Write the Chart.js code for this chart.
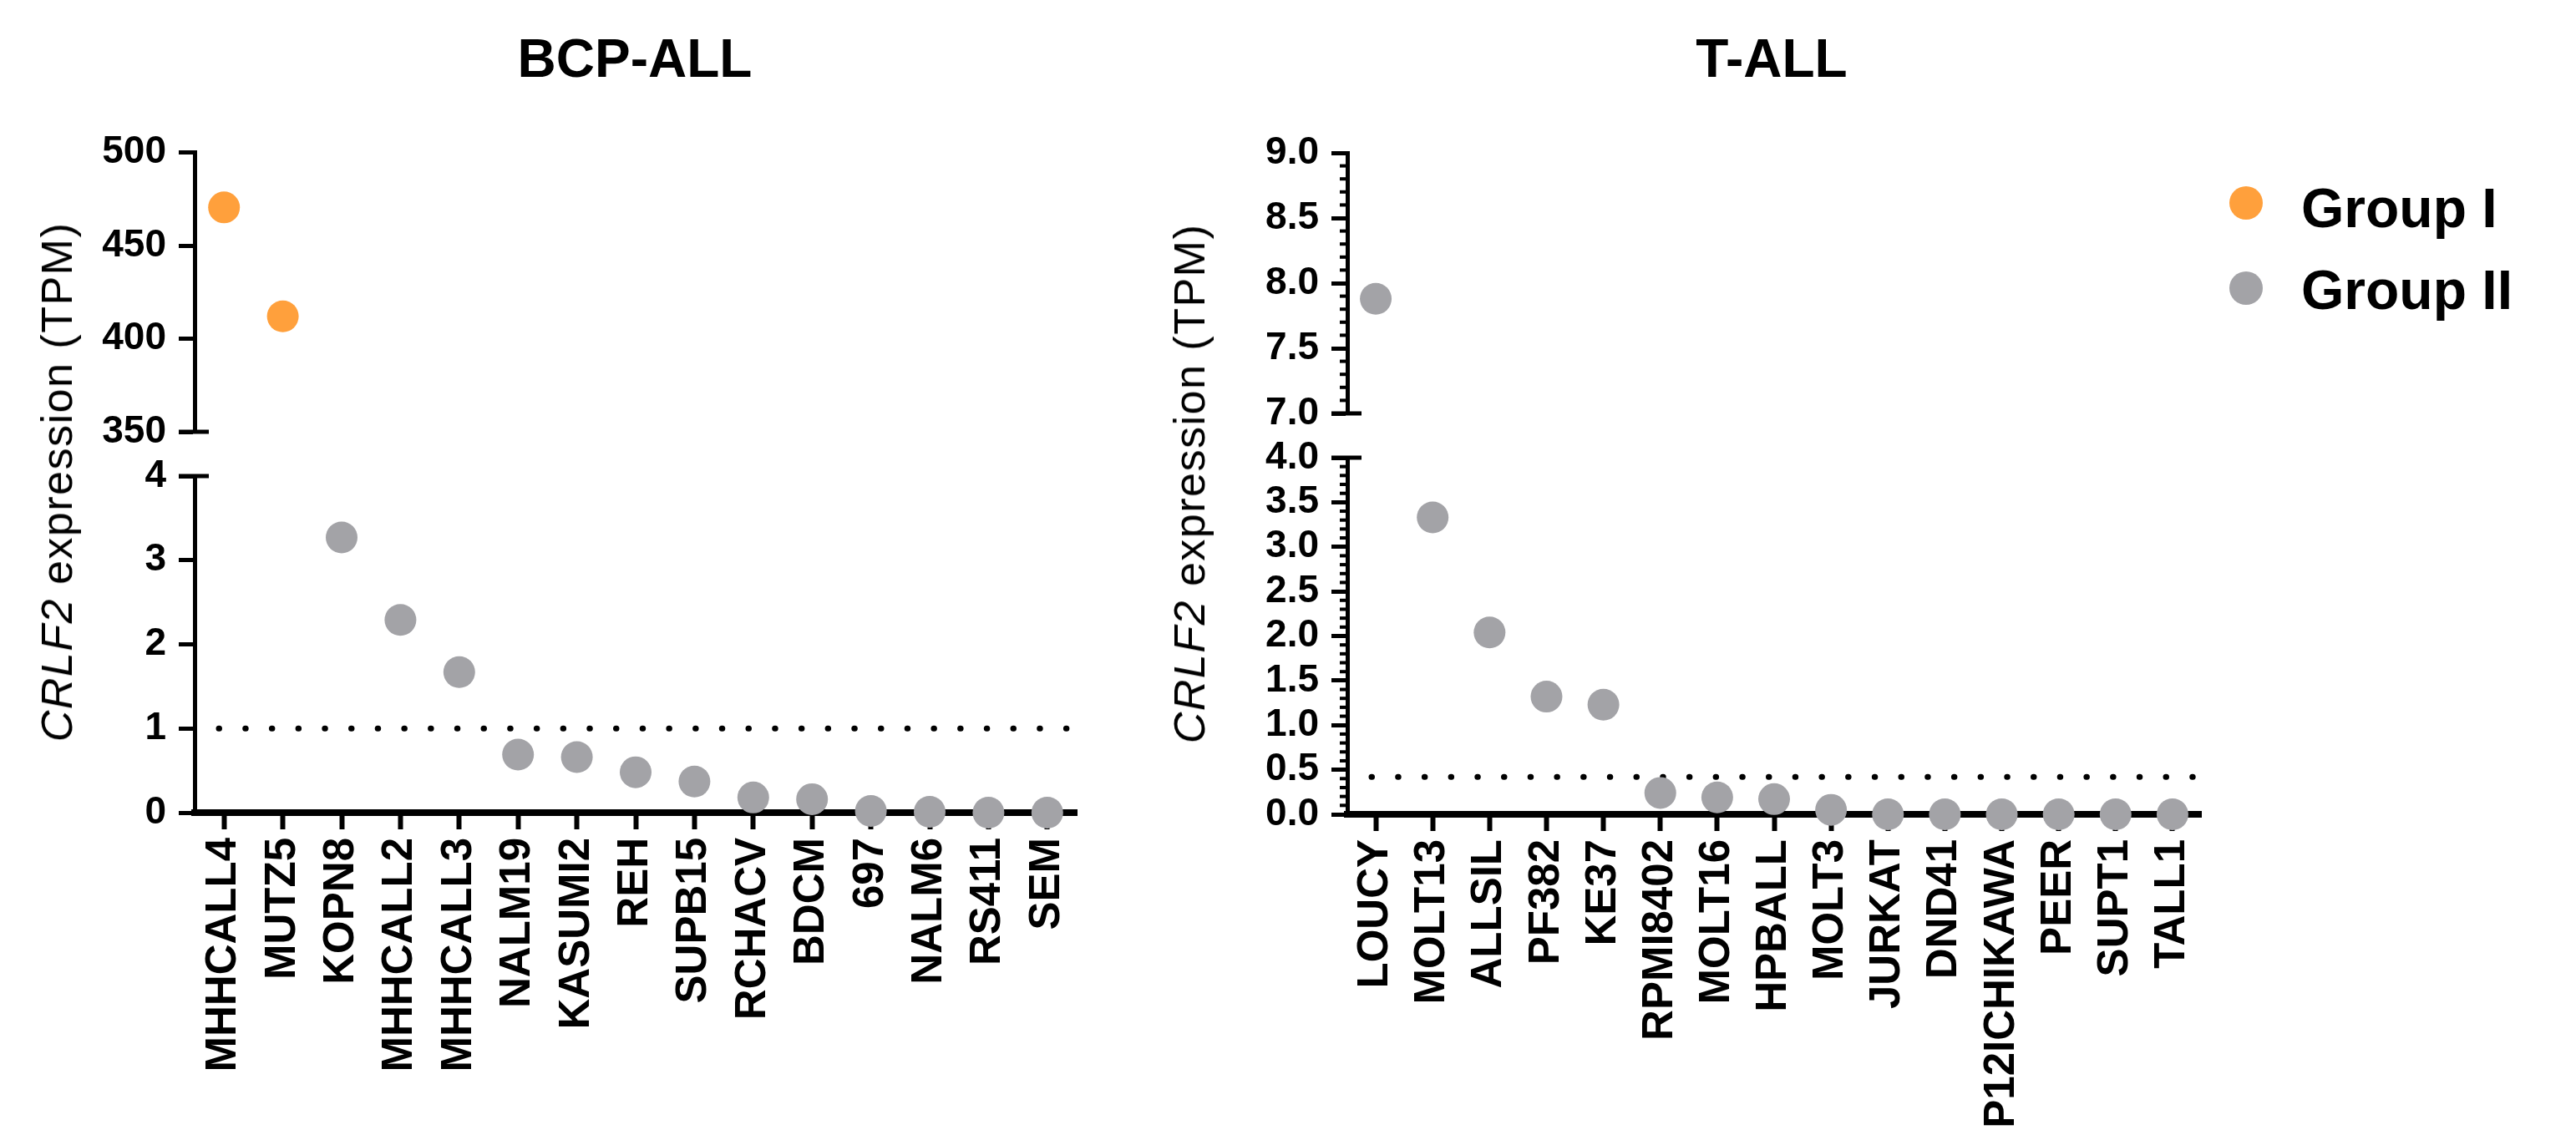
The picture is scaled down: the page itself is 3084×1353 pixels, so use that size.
<!DOCTYPE html>
<html lang="en">
<head>
<meta charset="UTF-8">
<title>CRLF2 expression in BCP-ALL and T-ALL cell lines</title>
<script src="https://cdn.jsdelivr.net/npm/chart.js"></script>
<style>
    body {
        margin: 0;
        background: #fff;
        font-family: 'Liberation Sans', Arial, sans-serif;
        color: #000;
    }

    #fig {
        position: relative;
        width: 3084px;
        height: 1353px;
        overflow: hidden;
    }

    #fig canvas {
        position: absolute;
    }

    /* panel titles */
    .title {
        position: absolute;
        top: 38px;
        font-size: 64px;
        line-height: 64px;
        font-weight: bold;
        white-space: nowrap;
        transform: translateX(-50%);
    }

    /* rotated y axis titles */
    .ytitle {
        position: absolute;
        font-size: 52px;
        line-height: 52px;
        letter-spacing: 1.5px;
        white-space: nowrap;
        transform: translate(-50%, -50%) rotate(-90deg);
    }

    /* legend */
    .leg-dot {
        position: absolute;
        width: 40px;
        height: 40px;
        border-radius: 50%;
    }

    .leg-text {
        position: absolute;
        left: 2755px;
        font-size: 66px;
        line-height: 66px;
        font-weight: bold;
        white-space: nowrap;
    }
</style>
</head>
<body>
<div id="fig">
    <canvas id="bcpTop" width="1330" height="420" style="left:0px; top:140px;"></canvas>
    <canvas id="bcpBottom" width="1330" height="833" style="left:0px; top:520px;"></canvas>
    <canvas id="tallTop" width="1296" height="400" style="left:1380px; top:140px;"></canvas>
    <canvas id="tallBottom" width="1296" height="853" style="left:1380px; top:500px;"></canvas>

    <div class="title" style="left:760px;">BCP-ALL</div>
    <div class="title" style="left:2121px;">T-ALL</div>

    <div class="ytitle" style="left:68px; top:577px;"><i>CRLF2</i> expression (TPM)</div>
    <div class="ytitle" style="left:1424px; top:579px;"><i>CRLF2</i> expression (TPM)</div>

    <div class="leg-dot" style="left:2669px; top:223px; background:#ffa03c;"></div>
    <div class="leg-text" style="top:216px;">Group I</div>
    <div class="leg-dot" style="left:2669px; top:325px; background:#a3a3a7;"></div>
    <div class="leg-text" style="top:314px;">Group II</div>
</div>

<script>
    // BCP-ALL cell lines, TPM
    const bcpLines = ['MHHCALL4', 'MUTZ5', 'KOPN8', 'MHHCALL2', 'MHHCALL3', 'NALM19', 'KASUMI2', 'REH',
        'SUPB15', 'RCHACV', 'BDCM', '697', 'NALM6', 'RS411', 'SEM'];
    const bcpTPM = [470.5, 412, 3.27, 2.29, 1.67, 0.69, 0.66, 0.48, 0.37, 0.18, 0.16, 0.02, 0.01, 0, 0];
    const bcpGroupI = ['MHHCALL4', 'MUTZ5'];
    const bcpThreshold = 1;

    // T-ALL cell lines
    const tallLines = ['LOUCY', 'MOLT13', 'ALLSIL', 'PF382', 'KE37', 'RPMI8402', 'MOLT16', 'HPBALL',
        'MOLT3', 'JURKAT', 'DND41', 'P12ICHIKAWA', 'PEER', 'SUPT1', 'TALL1'];
    const tallTPM = [7.88, 3.33, 2.04, 1.32, 1.23, 0.24, 0.19, 0.17, 0.05, 0, 0, 0, 0, 0, 0];
    const tallGroupI = [];
    const tallThreshold = 0.42;

    // broken y axes: [min, max, step]
    const bcpUpperAxis = [350, 500, 50];
    const bcpLowerAxis = [0, 4, 1];
    const tallUpperAxis = [7, 9, 0.5];
    const tallLowerAxis = [0, 4, 0.5];
    const tallMinorStep = 0.1;

    const orange = '#ffa03c';
    const grey = '#a3a3a7';
    Chart.defaults.font.family = "'Liberation Sans', Arial, sans-serif";
    Chart.defaults.color = '#000';

    // values of one group that fall inside one panel's range
    function pick(lines, values, groupI, wantGroupI, range) {
        return values.map((v, i) => {
            const inGroup = groupI.includes(lines[i]) === wantGroupI;
            return inGroup && v >= range[0] && v <= range[1] ? v : null;
        });
    }

    // dotted cut-off line
    const refLine = {
        id: 'refLine',
        beforeDatasetsDraw(chart, args, opts) {
            if (opts.value === undefined) return;
            const y = chart.scales.y.getPixelForValue(opts.value);
            const area = chart.chartArea;
            const ctx = chart.ctx;
            ctx.save();
            ctx.strokeStyle = '#000';
            ctx.lineWidth = 7;
            ctx.lineCap = 'round';
            ctx.setLineDash([0.5, 31.2]);
            ctx.beginPath();
            ctx.moveTo(area.left + 29, y);
            ctx.lineTo(area.right, y);
            ctx.stroke();
            ctx.restore();
        }
    };

    // break marks and minor ticks on the y axis
    const axisMarks = {
        id: 'axisMarks',
        afterDraw(chart, args, opts) {
            const ctx = chart.ctx;
            const y = chart.scales.y;
            const x0 = chart.chartArea.left;
            ctx.save();
            ctx.strokeStyle = '#000';
            ctx.lineCap = 'butt';
            if (opts.breakAt) {
                const py = opts.breakAt === 'bottom' ? chart.chartArea.bottom : chart.chartArea.top;
                ctx.lineWidth = 5;
                ctx.beginPath();
                ctx.moveTo(x0 - 19, py);
                ctx.lineTo(x0 + 17, py);
                ctx.stroke();
            }
            if (opts.minor) {
                ctx.lineWidth = 4;
                const n = Math.round((y.max - y.min) / opts.minor);
                for (let i = 1; i < n; i++) {
                    if (i % Math.round(opts.major / opts.minor) === 0) continue;
                    const py = y.getPixelForValue(y.min + i * opts.minor);
                    ctx.beginPath();
                    ctx.moveTo(x0 - 9, py);
                    ctx.lineTo(x0, py);
                    ctx.stroke();
                }
            }
            ctx.restore();
        }
    };

    function makePanel(id, o) {
        const dotStyle = color => ({
            showLine: false,
            pointRadius: 19,
            pointBorderWidth: 0,
            pointBackgroundColor: color,
            borderColor: color,
            backgroundColor: color,
            clip: false
        });
        return new Chart(document.getElementById(id), {
            type: 'line',
            data: {
                labels: o.labels,
                datasets: [
                    Object.assign({ label: 'Group I', data: o.groupI }, dotStyle(orange)),
                    Object.assign({ label: 'Group II', data: o.groupII }, dotStyle(grey))
                ]
            },
            options: {
                responsive: false,
                animation: false,
                events: [],
                layout: { padding: o.padding },
                plugins: {
                    legend: { display: false },
                    tooltip: { enabled: false },
                    refLine: { value: o.threshold },
                    axisMarks: { breakAt: o.breakAt, minor: o.minor, major: o.axis[2] }
                },
                scales: {
                    x: {
                        type: 'category',
                        offset: true,
                        display: o.showX,
                        grid: { drawOnChartArea: false, tickLength: 20, tickWidth: 6, tickColor: '#000' },
                        border: { color: '#000', width: 8 },
                        ticks: {
                            autoSkip: false,
                            minRotation: 90,
                            maxRotation: 90,
                            padding: 10,
                            font: { size: 51, weight: 'bold' }
                        },
                        afterFit: s => { s.height = o.xHeight || 0; }
                    },
                    y: {
                        min: o.axis[0],
                        max: o.axis[1],
                        ticks: {
                            stepSize: o.axis[2],
                            autoSkip: false,
                            padding: 15,
                            font: { size: 46, weight: 'bold' },
                            callback: v => o.decimals ? Number(v).toFixed(o.decimals) : v
                        },
                        grid: { drawOnChartArea: false, tickLength: 19, tickWidth: 5, tickColor: '#000' },
                        border: { color: '#000', width: 5 },
                        afterFit: s => { s.width = o.yWidth; }
                    }
                }
            },
            plugins: [refLine, axisMarks]
        });
    }

    // BCP-ALL
    makePanel('bcpTop', {
        labels: bcpLines,
        groupI: pick(bcpLines, bcpTPM, bcpGroupI, true, bcpUpperAxis),
        groupII: pick(bcpLines, bcpTPM, bcpGroupI, false, bcpUpperAxis),
        axis: bcpUpperAxis,
        showX: false,
        yWidth: 233,
        padding: { left: 0, top: 42, right: 41, bottom: 43 },
        breakAt: 'bottom'
    });
    makePanel('bcpBottom', {
        labels: bcpLines,
        groupI: pick(bcpLines, bcpTPM, bcpGroupI, true, bcpLowerAxis),
        groupII: pick(bcpLines, bcpTPM, bcpGroupI, false, bcpLowerAxis),
        axis: bcpLowerAxis,
        showX: true,
        xHeight: 380,
        yWidth: 233,
        padding: { left: 0, top: 50, right: 41, bottom: 0 },
        breakAt: 'top',
        threshold: bcpThreshold
    });

    // T-ALL
    makePanel('tallTop', {
        labels: tallLines,
        groupI: pick(tallLines, tallTPM, tallGroupI, true, tallUpperAxis),
        groupII: pick(tallLines, tallTPM, tallGroupI, false, tallUpperAxis),
        axis: tallUpperAxis,
        decimals: 1,
        showX: false,
        yWidth: 233,
        padding: { left: 0, top: 43, right: 41, bottom: 45 },
        breakAt: 'bottom',
        minor: tallMinorStep
    });
    makePanel('tallBottom', {
        labels: tallLines,
        groupI: pick(tallLines, tallTPM, tallGroupI, true, tallLowerAxis),
        groupII: pick(tallLines, tallTPM, tallGroupI, false, tallLowerAxis),
        axis: tallLowerAxis,
        decimals: 1,
        showX: true,
        xHeight: 378,
        yWidth: 233,
        padding: { left: 0, top: 48, right: 41, bottom: 0 },
        breakAt: 'top',
        minor: tallMinorStep,
        threshold: tallThreshold
    });
</script>
</body>
</html>
